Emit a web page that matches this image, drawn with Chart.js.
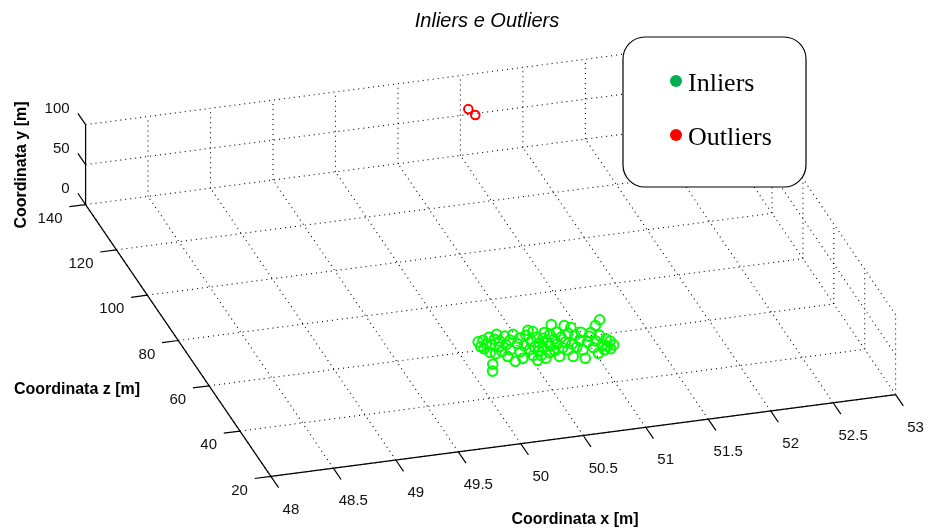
<!DOCTYPE html>
<html>
<head>
<meta charset="utf-8">
<script src="https://cdn.jsdelivr.net/npm/chart.js@4.4.1/dist/chart.umd.min.js"></script>
<style>
  html, body { margin: 0; padding: 0; background: #fff; }
  #wrap { width: 929px; height: 528px; }
</style>
</head>
<body>
<div id="wrap"><canvas id="myChart" width="929" height="528"></canvas></div>
<script>
// axis ticks
const xTicks = [48, 48.5, 49, 49.5, 50, 50.5, 51, 51.5, 52, 52.5, 53];
const yTicks = [0, 50, 100];
const zTicks = [20, 40, 60, 80, 100, 120, 140];

// inliers (x, y, z in metres)
const inX = [
  50.18, 50.18, 50.22, 50.19, 50.23, 50.28, 50.22, 50.26, 50.18, 50.14,
  50.31, 50.25, 50.35, 50.31, 50.34, 50.31, 50.40, 50.37, 50.33, 50.42,
  50.38, 50.47, 50.36, 50.46, 50.50, 50.44, 50.43, 50.50, 50.56, 50.60,
  50.52, 50.57, 50.52, 50.57, 50.63, 50.53, 50.58, 50.62, 50.58, 50.67,
  50.63, 50.60, 50.68, 50.65, 50.74, 50.69, 50.80, 50.75, 50.70, 50.80,
  50.75, 50.71, 50.81, 50.77, 50.89, 50.82, 50.88, 50.80, 50.93, 50.86,
  50.81, 50.92, 50.88, 50.93, 50.98, 50.91, 50.89, 50.98, 51.02, 51.05,
  51.00, 51.12, 51.05, 51.01, 51.18, 51.10, 51.08, 51.07, 51.13, 51.11,
  51.15, 51.12, 51.16, 50.71, 50.63
];
const inY = [
  4, 3, 5, 4, 4, 5, 3, 4, 3, 4,
  5, 4, 5, 4, 5, 3, 5, 4, 3, 5,
  4, 5, 3, 4, 5, 4, 3, 4, 5, 5,
  4, 5, 3, 4, 5, 3, 4, 5, 3, 5,
  4, 3, 5, 4, 5, 4, 5, 5, 4, 5,
  4, 3, 5, 4, 5, 4, 5, 4, 5, 4,
  3, 5, 4, 5, 5, 4, 3, 5, 5, 5,
  4, 5, 4, 3, 5, 5, 4, 4, 5, 4,
  5, 4, 4, 5, 5
];
const inZ = [
  62.2, 60.5, 62.3, 59.1, 60.9, 63.2, 57.6, 60.3, 52.7, 49.6,
  62.1, 56.5, 64.0, 59.1, 61.0, 57.3, 62.8, 59.5, 55.0, 60.9,
  57.3, 63.1, 52.7, 59.3, 61.2, 56.0, 53.5, 58.2, 62.0, 63.9,
  56.3, 59.4, 54.1, 57.2, 60.6, 51.9, 55.4, 58.1, 53.7, 59.9,
  56.3, 52.3, 58.1, 54.1, 61.1, 56.7, 65.0, 59.0, 54.6, 61.6,
  57.2, 52.3, 59.4, 55.3, 63.9, 57.5, 60.6, 54.2, 62.8, 56.4,
  51.6, 59.4, 54.9, 57.2, 60.3, 53.4, 50.2, 56.0, 58.3, 59.7,
  53.7, 62.3, 56.3, 51.5, 64.4, 58.1, 54.4, 52.3, 56.2, 53.7,
  55.2, 52.4, 53.8, 62.2, 63.2
];

// outliers
const outX = [51.01, 51.04];
const outY = [70, 68];
const outZ = [135.7, 133.6];

// orthographic view (pixels per unit of each axis)
const view = { ox: 268, oy: 482, ex: [126.8, -16.8], ey: [0, -0.82], ez: [-1.567, -2.325] };

const proj = (x, y, z) => {
  const dx = x - xTicks[0], dy = y - yTicks[0], dz = z - zTicks[0];
  return {
    x: view.ox + dx * view.ex[0] + dy * view.ey[0] + dz * view.ez[0],
    y: view.oy + dx * view.ex[1] + dy * view.ey[1] + dz * view.ez[1]
  };
};

const toPoints = (xs, ys, zs) => xs.map((x, i) => proj(x, ys[i], zs[i]));

const legendColors = ['#00b050', '#ff0000'];

// draws the 3d box: grid, axes, ticks, labels
const box3d = {
  id: 'box3d',
  beforeDatasetsDraw(chart) {
    const { ctx, scales: { x: sx, y: sy } } = chart;
    const P = (x, y, z) => {
      const p = proj(x, y, z);
      return [sx.getPixelForValue(p.x), sy.getPixelForValue(p.y)];
    };
    const line = (a, b) => { ctx.moveTo(a[0], a[1]); ctx.lineTo(b[0], b[1]); };
    const x0 = xTicks[0], x1 = xTicks[xTicks.length - 1];
    const y0 = yTicks[0], y1 = yTicks[yTicks.length - 1];
    const z0 = zTicks[0], z1 = zTicks[zTicks.length - 1];

    ctx.save();
    // dotted grid
    ctx.beginPath();
    ctx.setLineDash([1, 4]);
    ctx.lineWidth = 1.1;
    ctx.strokeStyle = '#000';
    xTicks.forEach(x => {
      line(P(x, y0, z0), P(x, y0, z1));   // floor
      line(P(x, y0, z1), P(x, y1, z1));   // back wall
    });
    zTicks.forEach(z => {
      line(P(x0, y0, z), P(x1, y0, z));   // floor
      line(P(x1, y0, z), P(x1, y1, z));   // right wall
    });
    yTicks.forEach(y => {
      line(P(x0, y, z1), P(x1, y, z1));   // back wall
      line(P(x1, y, z0), P(x1, y, z1));   // right wall
    });
    ctx.stroke();

    // axis lines + ticks
    ctx.setLineDash([]);
    ctx.lineWidth = 1.2;
    ctx.strokeStyle = '#000';
    ctx.beginPath();
    line(P(x0, y0, z0), P(x1, y0, z0));
    line(P(x0, y0, z0), P(x0, y0, z1));
    line(P(x0, y0, z1), P(x0, y1, z1));
    xTicks.forEach(x => line(P(x, y0, z0), P(x, y0, z0 - 5)));
    zTicks.forEach(z => line(P(x0, y0, z), P(x0 - 0.13, y0, z)));
    yTicks.forEach(y => line(P(x0, y, z1), P(x0, y, z1 + 5)));
    ctx.stroke();

    // tick labels
    ctx.fillStyle = '#111';
    ctx.font = '15px "Liberation Sans", Arial, sans-serif';
    ctx.textBaseline = 'middle';
    ctx.textAlign = 'center';
    xTicks.forEach(x => {
      const p = P(x, y0, z0);
      ctx.fillText(String(x), p[0] + 20, p[1] + 33);
    });
    ctx.textAlign = 'right';
    zTicks.forEach(z => {
      const p = P(x0, y0, z);
      ctx.fillText(String(z), p[0] - 23, p[1] + 14);
    });
    yTicks.forEach(y => {
      const p = P(x0, y, z1);
      ctx.fillText(String(y), p[0] - 16, p[1] - 16);
    });

    // axis titles
    ctx.fillStyle = '#000';
    ctx.font = 'bold 16px "Liberation Sans", Arial, sans-serif';
    ctx.textAlign = 'center';
    ctx.fillText('Coordinata x [m]', 575, 520);
    ctx.fillText('Coordinata z [m]', 77, 390);
    ctx.save();
    ctx.translate(22, 165);
    ctx.rotate(-Math.PI / 2);
    ctx.fillText('Coordinata y [m]', 0, 0);
    ctx.restore();

    // title
    ctx.font = 'italic 20px "Liberation Sans", Arial, sans-serif';
    ctx.fillText('Inliers e Outliers', 487, 21);
    ctx.restore();
  },
  afterDatasetsDraw(chart) {
    // rounded legend box
    const { ctx } = chart;
    const bx = 623, by = 37, bw = 183, bh = 150, r = 22;
    ctx.save();
    ctx.beginPath();
    ctx.moveTo(bx + r, by);
    ctx.arcTo(bx + bw, by, bx + bw, by + bh, r);
    ctx.arcTo(bx + bw, by + bh, bx, by + bh, r);
    ctx.arcTo(bx, by + bh, bx, by, r);
    ctx.arcTo(bx, by, bx + bw, by, r);
    ctx.closePath();
    ctx.fillStyle = '#fff';
    ctx.fill();
    ctx.lineWidth = 1.2;
    ctx.strokeStyle = '#000';
    ctx.stroke();

    ctx.font = '26px "Liberation Serif", "Times New Roman", serif';
    ctx.textAlign = 'left';
    ctx.textBaseline = 'alphabetic';
    chart.data.datasets.forEach((ds, i) => {
      const cy = 81 + i * 54;
      ctx.beginPath();
      ctx.arc(676, cy, 6, 0, Math.PI * 2);
      ctx.fillStyle = legendColors[i];
      ctx.fill();
      ctx.fillStyle = '#000';
      ctx.fillText(ds.label, 688, cy + 10);
    });
    ctx.restore();
  }
};

const data = {
  datasets: [
    {
      label: 'Inliers',
      data: toPoints(inX, inY, inZ),
      borderColor: '#00ff00',
      backgroundColor: 'rgba(0,0,0,0)',
      borderWidth: 2,
      pointRadius: 4.8
    },
    {
      label: 'Outliers',
      data: toPoints(outX, outY, outZ),
      borderColor: '#ff0000',
      backgroundColor: 'rgba(0,0,0,0)',
      borderWidth: 2,
      pointRadius: 4.3
    }
  ]
};

const config = {
  type: 'scatter',
  data,
  options: {
    responsive: false,
    animation: false,
    layout: { padding: 0 },
    scales: {
      x: { type: 'linear', min: 0, max: 929, display: false },
      y: { type: 'linear', min: 0, max: 528, reverse: true, display: false }
    },
    plugins: {
      legend: { display: false },
      tooltip: { enabled: false }
    }
  },
  plugins: [box3d]
};

const myChart = new Chart(document.getElementById('myChart'), config);
</script>
</body>
</html>
